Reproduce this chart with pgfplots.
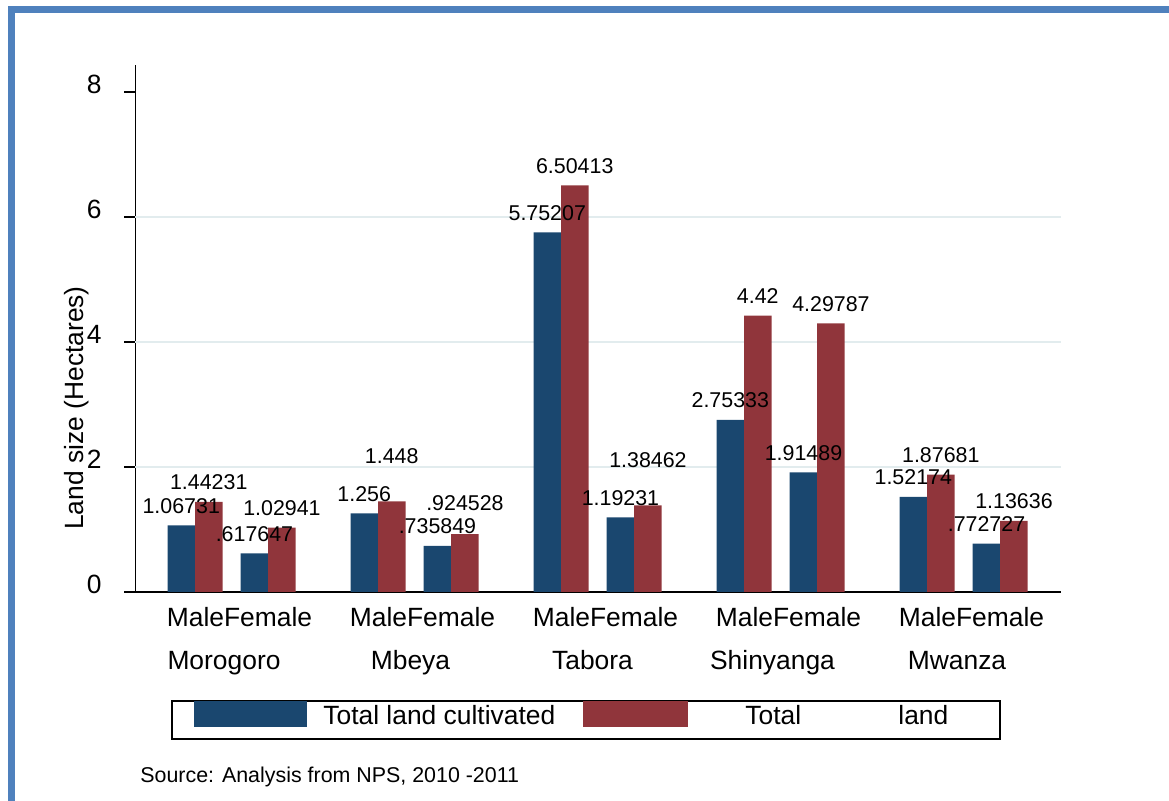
\documentclass[border=0pt]{standalone}
\usepackage{pgfplots}
\pgfplotsset{compat=1.18}
\usepackage{pgfplotstable}
\usepackage{fontspec}
\setmainfont{Liberation Sans}
\definecolor{stnavy}{RGB}{26,71,111}
\definecolor{stmaroon}{RGB}{144,53,59}
\definecolor{framebl}{RGB}{79,129,189}
\definecolor{gridc}{RGB}{226,236,238}

% Total land cultivated (blue)
\pgfplotstableread{
x    y         lab      dy
0    1.06731   1.06731  0
1    0.617647  .617647  0
2.5  1.256     1.256    0
3.5  0.735849  .735849  0
5    5.75207   5.75207  0
6    1.19231   1.19231  0
7.5  2.75333   2.75333  0
8.5  1.91489   1.91489  0
10   1.52174   1.52174  0
11   0.772727  .772727  0
}\cultivated

% Total land (red)
\pgfplotstableread{
x    y         lab      dy
0    1.44231   1.44231  0
1    1.02941   1.02941  0
2.5  1.448     1.448    13
3.5  0.924528  .924528  6
5    6.50413   6.50413  0
6    1.38462   1.38462  13
7.5  4.42      4.42     0
8.5  4.29787   4.29787  0
10   1.87681   1.87681  0
11   1.13636   1.13636  0
}\totalland

\begin{document}
\begin{tikzpicture}
\path[use as bounding box] (0,0) rectangle (584.5pt,400.5pt);
\fill[framebl] (4pt,0pt) rectangle (7.5pt,397.5pt);
\fill[framebl] (4pt,394pt) rectangle (584.5pt,397.5pt);
\begin{axis}[
  at={(67.75pt,104.5pt)}, anchor=south west,
  scale only axis, width=462.75pt, height=263.5pt,
  xmin=-0.813, xmax=11.83, ymin=0, ymax=8.432,
  axis x line*=bottom, axis y line*=left,
  axis line style={-, line width=0.6pt, black},
  xtick=\empty,
  ytick={0,2,4,6,8},
  tick align=outside, major tick length=5.5pt,
  tick style={line width=0.6pt, black},
  yticklabel style={font=\fontsize{13.2}{15}\selectfont, anchor=base east, inner sep=0pt, xshift=-11.25pt, yshift=-1pt},
  /pgf/number format/assume math mode=true,
  extra y ticks={2,4,6}, extra y tick labels={},
  extra y tick style={grid=major, major tick length=0pt, major grid style={gridc, line width=0.8pt}},
  clip=false,
  every node near coord/.style={font=\fontsize{10.7}{12}\selectfont, anchor=base, inner sep=0pt, text=black},
]
% bars (each bar placed at its own centre)
\addplot[ybar, fill=stnavy, draw=none, bar width=0.3757, bar shift=0]
  table[x expr=\thisrow{x}-0.1878, y=y] {\cultivated};
\addplot[ybar, fill=stmaroon, draw=none, bar width=0.3757, bar shift=0]
  table[x expr=\thisrow{x}+0.1878, y=y] {\totalland};
% value labels (drawn after all bars so they stay on top)
\addplot[ybar, fill=none, draw=none, bar width=0.3757, bar shift=0,
  nodes near coords, point meta=explicit symbolic,
  visualization depends on={\thisrow{dy} \as \dy},
  every node near coord/.append style={yshift=6pt+\dy pt}]
  table[x expr=\thisrow{x}-0.1878, y=y, meta=lab] {\cultivated};
\addplot[ybar, fill=none, draw=none, bar width=0.3757, bar shift=0,
  nodes near coords, point meta=explicit symbolic,
  visualization depends on={\thisrow{dy} \as \dy},
  every node near coord/.append style={yshift=6pt+\dy pt}]
  table[x expr=\thisrow{x}+0.1878, y=y, meta=lab] {\totalland};
\end{axis}
% y axis title
\node[rotate=90, font=\fontsize{13.2}{15}\selectfont] at (38.5pt,196.5pt) {Land size (Hectares)};
% group labels
\foreach \xx in {119.75,211.25,302.75,394.25,485.75}
  \node[anchor=base, inner sep=0pt, font=\fontsize{13.2}{15}\selectfont] at (\xx pt,87pt) {MaleFemale};
\node[anchor=base, inner sep=0pt, font=\fontsize{13.2}{15}\selectfont] at (112pt,65.5pt) {Morogoro};
\node[anchor=base, inner sep=0pt, font=\fontsize{13.2}{15}\selectfont] at (205.25pt,65.5pt) {Mbeya};
\node[anchor=base, inner sep=0pt, font=\fontsize{13.2}{15}\selectfont] at (296.25pt,65.5pt) {Tabora};
\node[anchor=base, inner sep=0pt, font=\fontsize{13.2}{15}\selectfont] at (386.25pt,65.5pt) {Shinyanga};
\node[anchor=base, inner sep=0pt, font=\fontsize{13.2}{15}\selectfont] at (478.5pt,65.5pt) {Mwanza};
% legend
\draw[line width=0.6pt, black] (86pt,31pt) rectangle (500pt,50pt);
\fill[stnavy] (97pt,37pt) rectangle (153.5pt,50pt);
\fill[stmaroon] (291.5pt,37pt) rectangle (344pt,50pt);
\node[anchor=base west, inner sep=0pt, font=\fontsize{13.2}{15}\selectfont] at (161.5pt,38pt) {Total land cultivated};
\node[anchor=base west, inner sep=0pt, font=\fontsize{13.2}{15}\selectfont] at (372.5pt,38pt) {Total};
\node[anchor=base west, inner sep=0pt, font=\fontsize{13.2}{15}\selectfont] at (449pt,38pt) {land};
% source
\node[anchor=base west, inner sep=0pt, font=\fontsize{10.7}{12}\selectfont] at (70pt,9pt) {Source: Analysis from NPS, 2010 -2011};
\end{tikzpicture}
\end{document}
